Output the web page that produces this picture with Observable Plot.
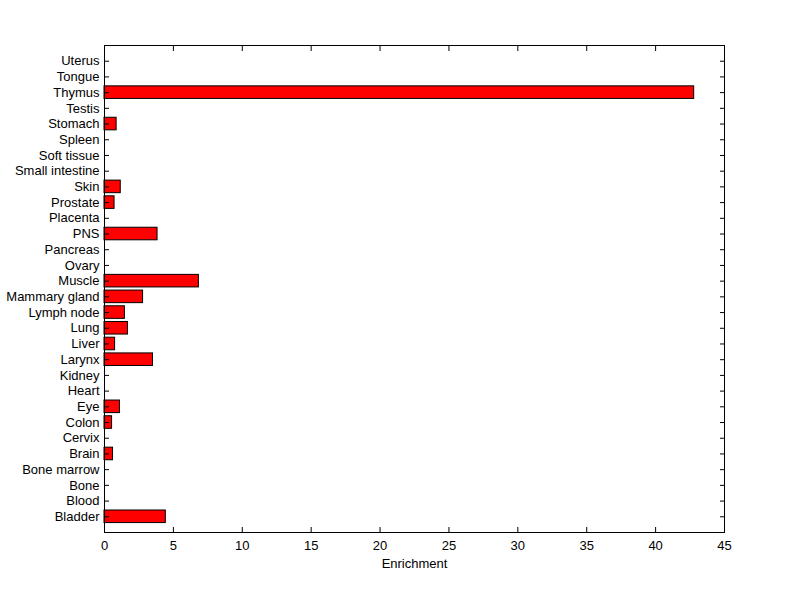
<!DOCTYPE html>
<html>
<head>
<meta charset="utf-8">
<script src="https://cdn.jsdelivr.net/npm/d3@7"></script>
<script src="https://cdn.jsdelivr.net/npm/@observablehq/plot@0.6"></script>
<style>
  html, body { margin: 0; padding: 0; background: #ffffff; }
  #chart svg { display: block; }
</style>
</head>
<body>
<div id="chart"></div>
<script>
const tissues = ["Bladder","Blood","Bone","Bone marrow","Brain","Cervix","Colon","Eye","Heart","Kidney","Larynx","Liver","Lung","Lymph node","Mammary gland","Muscle","Ovary","Pancreas","PNS","Placenta","Prostate","Skin","Small intestine","Soft tissue","Spleen","Stomach","Testis","Thymus","Tongue","Uterus"];
const enrichment = [4.45,0,0,0,0.62,0,0.55,1.12,0,0,3.52,0.77,1.7,1.48,2.8,6.85,0,0,3.85,0,0.73,1.18,0,0,0,0.88,0,42.8,0,0];
const xTicks = [0,5,10,15,20,25,30,35,40,45];
const xLabel = "Enrichment";

const data = tissues.map((t, i) => ({tissue: t, value: enrichment[i]}));

const chart = Plot.plot({
  width: 800,
  height: 599,
  marginLeft: 104,
  marginRight: 76,
  marginTop: 45,
  marginBottom: 67,
  style: {fontFamily: "'Liberation Sans', Arial, sans-serif", fontSize: "13px", background: "#ffffff", color: "#000000"},
  x: {domain: [0, 45]},
  y: {type: "band", domain: tissues.slice().reverse(), paddingInner: 0.2, paddingOuter: 0.6, align: 0.5, round: false},
  marks: [
    Plot.barX(data, {x: "value", y: "tissue", fill: "#ff0000", stroke: "#000000", strokeWidth: 1}),
    Plot.frame({stroke: "#000000"}),
    Plot.axisX({anchor: "bottom", ticks: xTicks, tickSize: 0, tickPadding: 8, label: xLabel, labelAnchor: "center", labelArrow: "none", labelOffset: 35}),
    Plot.axisX({anchor: "bottom", ticks: xTicks, tickSize: -5, fill: "none", label: null}),
    Plot.axisX({anchor: "top", ticks: xTicks, tickSize: -5, fill: "none", label: null}),
    Plot.axisY({anchor: "left", tickSize: 0, tickPadding: 5, label: null}),
    Plot.axisY({anchor: "left", tickSize: -5, fill: "none", label: null}),
    Plot.axisY({anchor: "right", tickSize: -5, fill: "none", label: null})
  ]
});
document.getElementById("chart").appendChild(chart);
</script>
</body>
</html>
